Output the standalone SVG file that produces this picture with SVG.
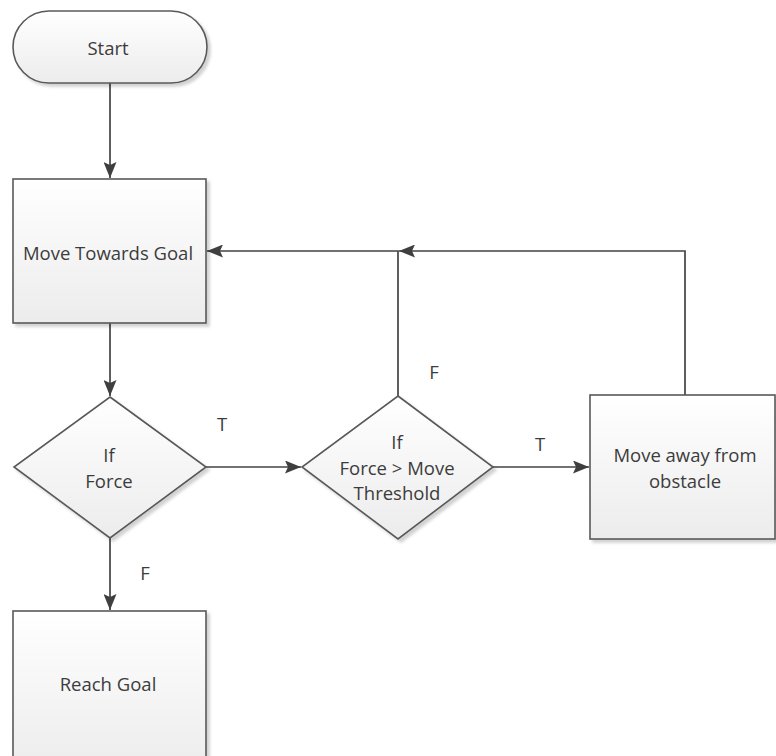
<svg xmlns="http://www.w3.org/2000/svg" width="776" height="756" viewBox="0 0 776 756">
  <style>
    .shape { fill: url(#fillGrad); stroke: #595959; stroke-width: 1.6; filter: url(#shadow); }
    .label { font-family: "Open Sans", "Noto Sans", "DejaVu Sans", sans-serif; font-size: 18.5px; fill: #3c3c3c; text-anchor: middle; dominant-baseline: central; }
    .edge { fill: none; stroke: #434343; stroke-width: 1.7; }
  </style>
  <defs>
    <linearGradient id="fillGrad" x1="0" y1="0" x2="0" y2="1">
      <stop offset="0" stop-color="#ffffff"/>
      <stop offset="1" stop-color="#ececec"/>
    </linearGradient>
    <filter id="shadow" x="-10%" y="-10%" width="130%" height="130%">
      <feDropShadow dx="3" dy="3" stdDeviation="1.5" flood-color="#000000" flood-opacity="0.18"/>
    </filter>
    <marker id="arrow" viewBox="0 0 16 13" refX="16" refY="6.5" markerWidth="16" markerHeight="13" markerUnits="userSpaceOnUse" orient="auto">
      <path d="M0,0 L16,6.5 L0,13 L3,6.5 Z" fill="#3f3f3f"/>
    </marker>
  </defs>

  <rect width="776" height="756" fill="#ffffff"/>

  <!-- connectors -->
  <g id="connectors">
    <path class="edge" d="M110,83 V178" marker-end="url(#arrow)"/>
    <path class="edge" d="M110,323 V396" marker-end="url(#arrow)"/>
    <path class="edge" d="M206,467 H301" marker-end="url(#arrow)"/>
    <path class="edge" d="M493,467 H589" marker-end="url(#arrow)"/>
    <path class="edge" d="M110,538 V610" marker-end="url(#arrow)"/>
    <path class="edge" d="M398,396 V251 H207" marker-end="url(#arrow)"/>
    <path class="edge" d="M685,395 V251 H399" marker-end="url(#arrow)"/>
    <text class="label" x="222" y="423">T</text>
    <text class="label" x="540" y="443">T</text>
    <text class="label" x="434" y="371">F</text>
    <text class="label" x="145" y="572">F</text>
  </g>

  <g id="start">
    <rect class="shape" x="13" y="11" width="194" height="72" rx="36" ry="36"/>
    <text class="label" x="108" y="47">Start</text>
  </g>

  <g id="move-towards-goal">
    <rect class="shape" x="13" y="179" width="193" height="144"/>
    <text class="label" x="108" y="252">Move Towards Goal</text>
  </g>

  <g id="if-force">
    <polygon class="shape" points="110,397 206,467 110,538 14,467"/>
    <text class="label" x="109" y="454">If</text>
    <text class="label" x="109" y="480">Force</text>
  </g>

  <g id="if-threshold">
    <polygon class="shape" points="398,396 493,467 398,539 302,467"/>
    <text class="label" x="397" y="441">If</text>
    <text class="label" x="397" y="467">Force &gt; Move</text>
    <text class="label" x="397" y="492">Threshold</text>
  </g>

  <g id="move-away">
    <rect class="shape" x="590" y="395" width="185" height="144"/>
    <text class="label" x="685" y="454">Move away from</text>
    <text class="label" x="685" y="480">obstacle</text>
  </g>

  <g id="reach-goal">
    <rect class="shape" x="13" y="611" width="193" height="160"/>
    <text class="label" x="108" y="683">Reach Goal</text>
  </g>
</svg>
